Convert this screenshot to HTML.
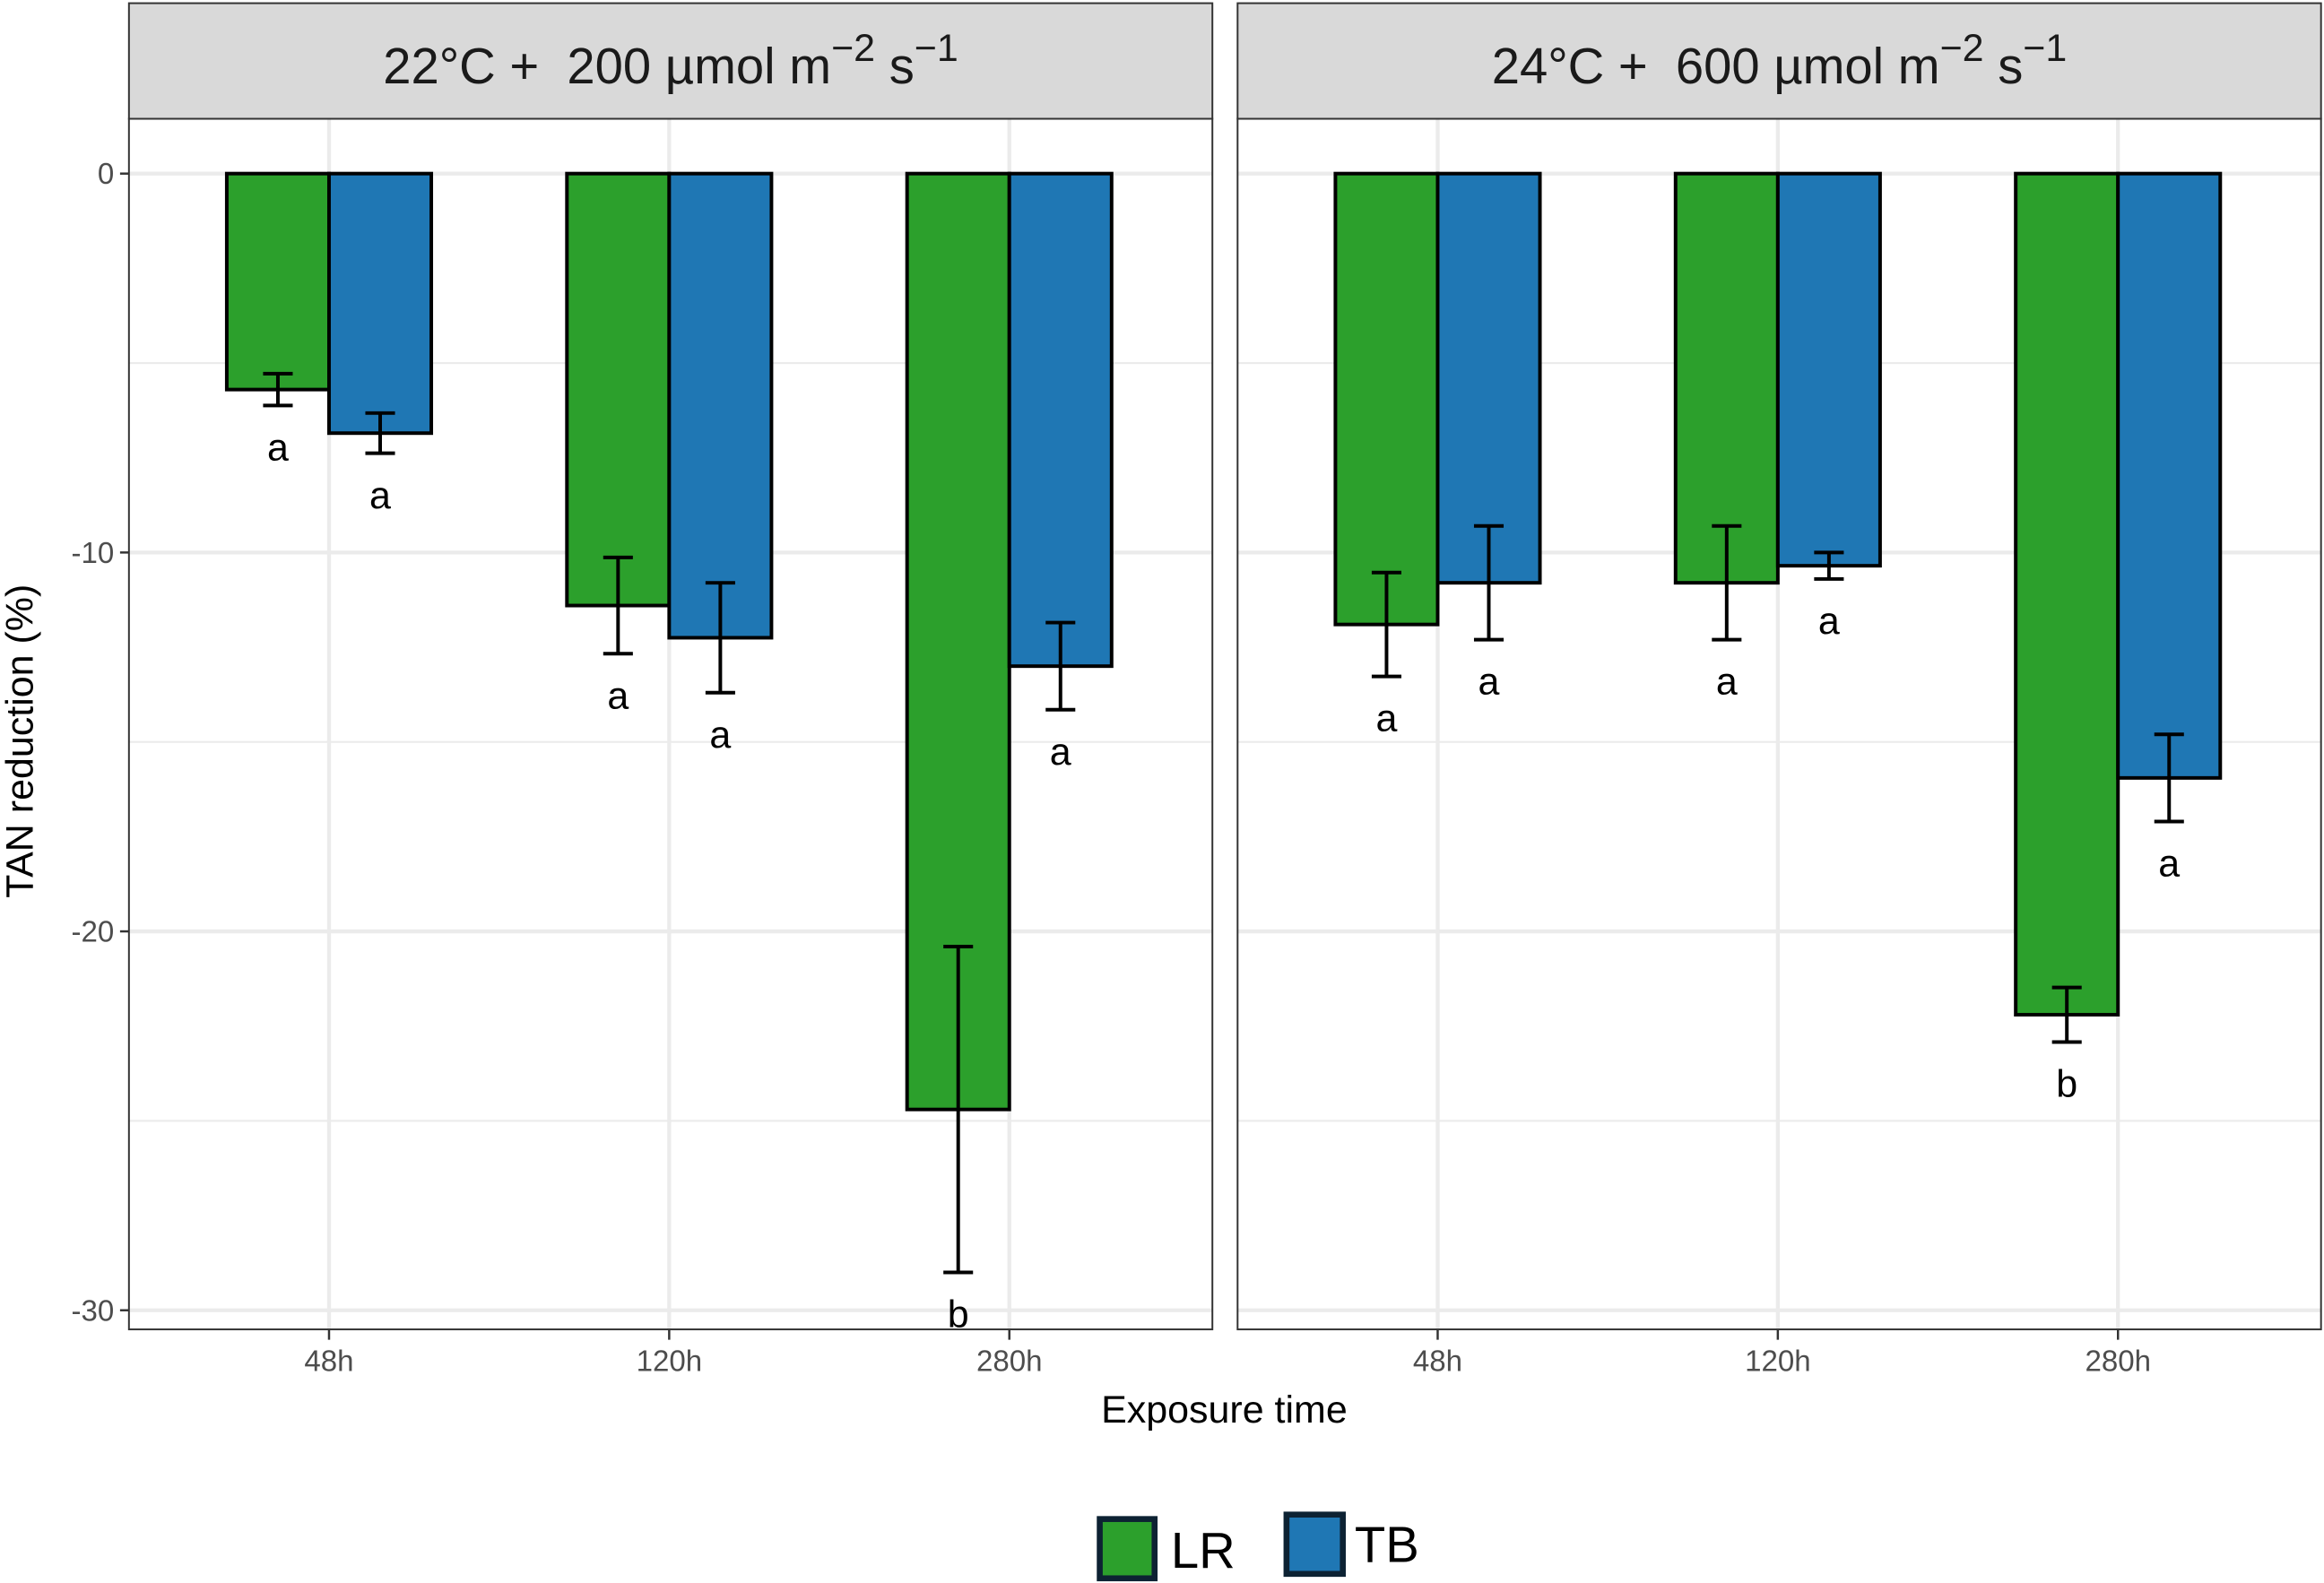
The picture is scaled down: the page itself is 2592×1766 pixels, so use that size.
<!DOCTYPE html>
<html><head><meta charset="utf-8"><style>
html,body{margin:0;padding:0;background:#fff;}
svg{display:block;font-family:"Liberation Sans",Arial,sans-serif;}
</style></head><body>
<svg id="chart" width="2592" height="1766" viewBox="0 0 1568 1068" xmlns="http://www.w3.org/2000/svg">
<g id="root"></g>
</svg>
<script>
const categories = ["48h","120h","280h"];
const panels = ["22°C +  200","24°C +  600"];
const lrMeans = [[-5.7,-11.4,-24.7],[-11.9,-10.8,-22.2]];
const lrErr = [[0.42,1.27,4.3],[1.37,1.5,0.72]];
const tbMeans = [[-6.85,-12.25,-13.0],[-10.8,-10.35,-15.95]];
const tbErr = [[0.53,1.45,1.15],[1.5,0.35,1.15]];
const lrLetters = [["a","a","b"],["a","a","b"]];
const tbLetters = [["a","a","a"],["a","a","a"]];
const yTicks = [0,-10,-20,-30];
const yMinor = [-5,-15,-25];

const NS="http://www.w3.org/2000/svg";
const root=document.getElementById('root');
function mk(tag,attrs,parent){const e=document.createElementNS(NS,tag);for(const k in attrs)e.setAttribute(k,attrs[k]);(parent||root).appendChild(e);return e;}
const yTop=80,yBot=897;
function yScale(v){return 117+(-v)*25.57;}
const panelX=[87,835], panelW=731;
function xScale(p,i){return panelX[p]+135+i*229.5;}
const bw=69;
const green="#2ca02c", blue="#1f77b4";

panels.forEach((title,p)=>{
  const x0=panelX[p];
  const g=mk('g',{});
  
  
  const s=mk('rect',{x:x0,y:2,width:panelW,height:78,fill:'#d9d9d9',stroke:'#333','stroke-width':1.2},g);
  
  
  const t=mk('text',{x:x0+panelW/2,y:56,'text-anchor':'middle','font-size':34,fill:'#1a1a1a'},g);
  
  
  t.style.whiteSpace='pre';
  t.innerHTML=title+' µmol m<tspan dy="-15" font-size="26">−2</tspan><tspan dy="15"> s</tspan><tspan dy="-15" font-size="26">−1</tspan>';
  mk('rect',{x:x0,y:yTop,width:panelW,height:yBot-yTop,fill:'#fff'},g);
  yMinor.forEach(v=>{const l=mk('line',{x1:x0,x2:x0+panelW,y1:yScale(v),y2:yScale(v),stroke:'#ebebeb','stroke-width':1.3},g);});
  yTicks.forEach(v=>{const l=mk('line',{x1:x0,x2:x0+panelW,y1:yScale(v),y2:yScale(v),stroke:'#ebebeb','stroke-width':2.6},g);});
  categories.forEach((c,i)=>{
    const x=xScale(p,i);
    mk('line',{x1:x,x2:x,y1:yTop,y2:yBot,stroke:'#ebebeb','stroke-width':2.6},g);
    mk('line',{x1:x,x2:x,y1:yBot,y2:yBot+7,stroke:'#333','stroke-width':1.5},g);
    const tl=mk('text',{x:x,y:925,'text-anchor':'middle','font-size':20,fill:'#4d4d4d'},g);
    tl.textContent=c;
    
    
  });
  categories.forEach((c,i)=>{
    const x=xScale(p,i);
    [[lrMeans,lrErr,lrLetters,green,x-bw,'lr'],[tbMeans,tbErr,tbLetters,blue,x,'tb']].forEach(([m,e,L,col,bx,nm])=>{
      const v=m[p][i], er=e[p][i];
      const b=mk('rect',{x:bx,y:yScale(0),width:bw,height:yScale(v)-yScale(0),fill:col,stroke:'#000','stroke-width':2.4},g);
      
      
      const cx=bx+bw/2, y1=yScale(v+er), y2=yScale(v-er);
      const eb=mk('path',{d:`M${cx-10},${y1}H${cx+10}M${cx},${y1}V${y2}M${cx-10},${y2}H${cx+10}`,stroke:'#000','stroke-width':2.4,fill:'none'},g);
      
      
      const lt=mk('text',{x:cx,y:y2+37,'text-anchor':'middle','font-size':26,fill:'#000'},g);
      lt.textContent=L[p][i];
      
      
    });
  });
  mk('rect',{x:x0,y:yTop,width:panelW,height:yBot-yTop,fill:'none',stroke:'#333','stroke-width':1.2},g);
});
yTicks.forEach(v=>{
  mk('line',{x1:81,x2:87,y1:yScale(v),y2:yScale(v),stroke:'#333','stroke-width':1.5});
  const t=mk('text',{x:77,y:yScale(v)+7,'text-anchor':'end','font-size':20,fill:'#4d4d4d'});
  t.textContent=v;
  
  
});
</script>
<script>
(function(){
const NS="http://www.w3.org/2000/svg";const root=document.getElementById('root');
function mk(tag,attrs){const e=document.createElementNS(NS,tag);for(const k in attrs)e.setAttribute(k,attrs[k]);root.appendChild(e);return e;}
const xt=mk('text',{x:826,y:960,'text-anchor':'middle','font-size':26,fill:'#000'});xt.textContent='Exposure time';


const yt=mk('text',{x:0,y:0,'text-anchor':'middle','font-size':26,fill:'#000',transform:'translate(22,500) rotate(-90)'});yt.textContent='TAN reduction (%)';


const k1=mk('rect',{x:742,y:1025,width:37,height:40,fill:'#2ca02c',stroke:'#0d2233','stroke-width':4});


const t1=mk('text',{x:790,y:1058,'font-size':34,fill:'#000'});t1.textContent='LR';


const k2=mk('rect',{x:868,y:1022,width:38,height:40,fill:'#1f77b4',stroke:'#0d2233','stroke-width':4});


const t2=mk('text',{x:914,y:1054,'font-size':34,fill:'#000'});t2.textContent='TB';


})();
</script>
</body></html>
